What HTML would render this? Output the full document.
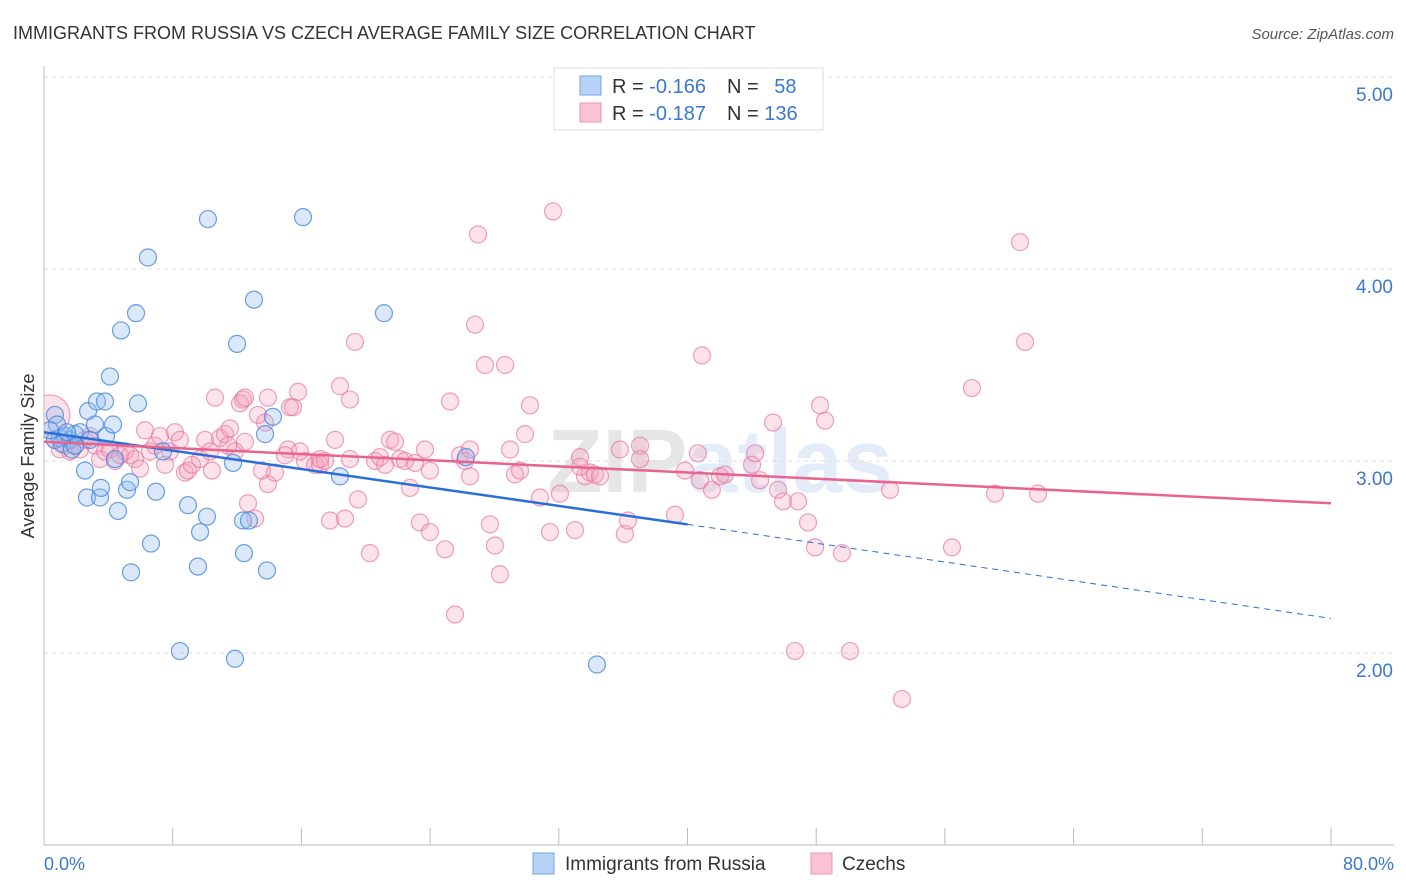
<!DOCTYPE html>
<html><head><meta charset="utf-8">
<style>
body{margin:0;background:#fff;font-family:"Liberation Sans",sans-serif;}
svg{display:block}
</style></head>
<body>
<svg id="chart" width="1406" height="892">
<defs><clipPath id="plotclip"><rect x="44" y="60" width="1360" height="785"/></clipPath></defs>
<text x="13" y="39" font-size="18" fill="#333">IMMIGRANTS FROM RUSSIA VS CZECH AVERAGE FAMILY SIZE CORRELATION CHART</text>
<text x="1394" y="39" font-size="15" fill="#555" font-style="italic" text-anchor="end">Source: ZipAtlas.com</text>
<text x="720" y="492" font-size="90" text-anchor="middle" font-weight="bold"><tspan fill="#e6e6e6">ZIP</tspan><tspan fill="#e3ecf8">atlas</tspan></text>
<g id="grid"></g>
<g id="axes"></g>
<g id="pink" clip-path="url(#plotclip)"></g>
<g id="blue" clip-path="url(#plotclip)"></g>
<g id="lines"></g>
<text transform="translate(34,456) rotate(-90)" font-size="18" fill="#333" text-anchor="middle">Average Family Size</text>
<text x="44" y="870" font-size="18" fill="#3a78d0">0.0%</text>
<text x="1394" y="870" font-size="18" fill="#3a78d0" text-anchor="end">80.0%</text>
<g>
<rect x="554" y="68" width="269" height="62" fill="#fff" stroke="#ddd"/>
<rect x="580" y="76" width="21" height="19" fill="#b8d3f5" stroke="#6fa3e6"/>
<rect x="580" y="103" width="21" height="19" fill="#f9c3d4" stroke="#ec94b0"/>
<text x="612" y="93" font-size="20" fill="#333">R = <tspan fill="#3a78d0">-0.166</tspan></text>
<text x="727" y="93" font-size="20" fill="#333">N = <tspan fill="#3a78d0" dx="10">58</tspan></text>
<text x="612" y="120" font-size="20" fill="#333">R = <tspan fill="#3a78d0">-0.187</tspan></text>
<text x="727" y="120" font-size="20" fill="#333">N = <tspan fill="#3a78d0">136</tspan></text>
</g>
<g>
<rect x="533" y="853" width="21" height="21" fill="#b8d3f5" stroke="#6fa3e6"/>
<text x="565" y="870" font-size="19" fill="#333">Immigrants from Russia</text>
<rect x="811" y="853" width="21" height="21" fill="#f9c3d4" stroke="#ec94b0"/>
<text x="842" y="870" font-size="19" fill="#333">Czechs</text>
</g>
</svg>
<script>
const yTicks=[2,3,4,5];
const yTickLabels=["2.00","3.00","4.00","5.00"];
const xTickValues=[0,8,16,24,32,40,48,56,64,72,80];
const blueX=[0.68,0.81,0.68,0.99,1.31,1.62,1.93,2.24,2.55,2.74,2.67,3.17,3.29,3.48,3.54,3.79,3.85,4.10,4.29,4.41,4.60,4.79,5.16,5.35,5.41,5.72,5.84,6.46,6.65,6.96,7.40,8.45,8.95,9.57,9.70,10.13,10.19,11.75,11.87,12.00,12.37,12.43,12.74,13.05,13.74,13.86,14.23,16.10,18.40,21.13,26.23,34.37,1.12,0.37,1.74,2.86,1.93,1.43];
const blueY=[3.24,3.19,3.11,3.12,3.13,3.11,3.14,3.15,2.95,3.26,2.81,3.19,3.31,2.81,2.86,3.31,3.13,3.44,3.19,3.01,2.74,3.68,2.85,2.89,2.42,3.77,3.30,4.06,2.57,2.84,3.05,2.01,2.77,2.45,2.63,2.71,4.26,2.99,1.97,3.61,2.69,2.52,2.69,3.84,3.14,2.43,3.23,4.27,2.92,3.77,3.02,1.94,3.09,3.16,3.06,3.11,3.08,3.15];
const pinkX=[0.37,0.68,0.99,1.31,1.62,1.93,2.24,2.55,2.86,3.17,3.48,3.79,4.10,4.41,4.72,5.04,5.35,5.66,5.97,6.28,6.59,6.90,7.21,7.52,7.83,8.14,8.45,8.76,8.95,9.20,9.70,10.01,10.32,10.44,10.63,10.94,11.25,11.56,11.87,12.18,12.37,12.49,12.68,13.12,13.30,13.55,13.92,13.92,14.36,15.17,15.29,15.48,15.79,15.91,16.22,16.85,17.16,17.47,17.78,18.09,18.40,18.71,19.02,19.33,19.52,20.26,20.58,20.89,21.20,21.51,21.82,22.13,22.44,22.75,23.06,23.37,23.68,23.99,24.93,25.24,25.55,25.86,26.17,26.48,26.79,26.98,27.41,27.72,28.03,28.34,28.66,28.97,29.28,29.59,29.90,30.21,30.83,31.45,31.64,32.07,33.01,33.32,33.63,33.94,34.25,34.56,35.80,36.11,36.30,37.05,39.22,39.84,40.65,40.90,41.52,42.02,42.33,44.01,44.20,45.32,45.63,45.94,46.68,46.87,47.49,47.93,48.24,48.55,49.60,50.10,52.59,53.33,56.44,57.68,59.11,60.67,60.98,61.79,11.44,12.49,13.74,14.98,17.16,19.02,23.99,26.48,33.32,37.05,40.78,44.51];
const pinkY=[3.24,3.11,3.06,3.08,3.05,3.08,3.06,3.11,3.13,3.08,3.01,3.05,3.06,3.00,3.03,3.05,3.03,3.01,2.96,3.16,3.05,3.08,3.13,2.98,3.05,3.15,3.11,2.94,2.95,2.98,3.01,3.11,3.05,2.95,3.33,3.12,3.14,3.17,3.05,3.30,3.32,3.33,2.78,2.70,3.24,2.95,2.88,3.33,2.94,3.06,3.28,3.28,3.36,3.05,3.00,2.98,2.98,3.00,2.69,3.11,3.39,2.70,3.32,3.62,2.80,2.52,3.00,3.02,2.98,3.11,3.10,3.01,3.00,2.86,2.99,2.68,3.06,2.63,2.54,3.31,2.20,3.03,3.00,2.92,3.71,4.18,3.50,2.67,2.56,2.41,3.50,3.06,2.93,2.95,3.14,3.29,2.81,2.63,4.30,2.83,2.64,3.02,2.92,2.94,2.93,2.92,3.06,2.62,2.69,3.08,2.72,2.95,3.04,3.55,2.85,2.92,2.93,2.98,3.04,3.20,2.85,2.79,2.01,2.79,2.68,2.55,3.29,3.21,2.52,2.01,2.85,1.76,2.55,3.38,2.83,4.14,3.62,2.83,3.08,3.10,3.20,3.03,3.01,3.01,2.95,3.06,2.97,3.01,2.90,2.90];
const blueTrend=[3.15,2.67,2.18];
const pinkTrend=[3.10,2.78];

const X0=44,XW=1287,Y1=845;
const sx=v=>X0+v/80*XW;
const sy=v=>Y1-(v-1)*192;
const NS="http://www.w3.org/2000/svg";
function mk(tag,attrs,parent){const e=document.createElementNS(NS,tag);for(const k in attrs)e.setAttribute(k,attrs[k]);parent.appendChild(e);return e;}
const grid=document.getElementById('grid');
yTicks.forEach((t,i)=>{
  const l=mk('line',{x1:X0,x2:1394,y1:sy(t),y2:sy(t),stroke:'#ddd','stroke-dasharray':'4,4'},grid);
  
  
  const tx=mk('text',{x:1393,y:sy(t)+24,'font-size':19,fill:'#3a78d0','text-anchor':'end'},grid);
  tx.textContent=yTickLabels[i];
  
  
});
const axes=document.getElementById('axes');
const ya=mk('line',{x1:X0,x2:X0,y1:66,y2:Y1,stroke:'#bbb'},axes);


const xa=mk('line',{x1:X0,x2:1394,y1:Y1,y2:Y1,stroke:'#bbb'},axes);


xTickValues.forEach(v=>{
  const t=mk('line',{x1:sx(v),x2:sx(v),y1:828,y2:Y1,stroke:'#bbb'},axes);
  
  
});
const pg=document.getElementById('pink');
pinkX.forEach((x,i)=>{
  const c=mk('circle',{cx:sx(x),cy:sy(pinkY[i]),r:i===0?20:8.5,fill:'rgba(244,160,188,0.3)',stroke:'rgba(232,120,160,0.7)','stroke-width':1.2},pg);
  
  
});
const bg=document.getElementById('blue');
blueX.forEach((x,i)=>{
  const c=mk('circle',{cx:sx(x),cy:sy(blueY[i]),r:8.5,fill:'rgba(150,190,240,0.35)',stroke:'rgba(70,135,220,0.8)','stroke-width':1.2},bg);
  
  
});
const lg=document.getElementById('lines');
const bl=mk('line',{x1:sx(0),y1:sy(blueTrend[0]),x2:sx(40),y2:sy(blueTrend[1]),stroke:'#2a6fd6','stroke-width':2.5},lg);


const bd=mk('line',{x1:sx(40),y1:sy(blueTrend[1]),x2:sx(80),y2:sy(blueTrend[2]),stroke:'#2a6fd6','stroke-width':1,'stroke-dasharray':'6,5'},lg);


const pl=mk('line',{x1:sx(0),y1:sy(pinkTrend[0]),x2:sx(80),y2:sy(pinkTrend[1]),stroke:'#e8638e','stroke-width':2.5},lg);


</script>
</body></html>
